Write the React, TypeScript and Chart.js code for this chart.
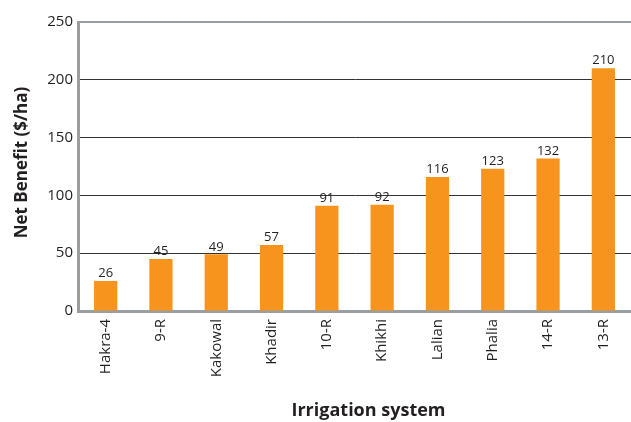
import React, { useEffect, useRef } from "react";
import { Chart, registerables } from "chart.js";

Chart.register(...registerables);

const categories = ["Hakra-4", "9-R", "Kakowal", "Khadir", "10-R", "Khikhi", "Lalian", "Phalia", "14-R", "13-R"];
const netBenefit = [26, 45, 49, 57, 91, 92, 116, 123, 132, 210];
const yTicks = [0, 50, 100, 150, 200, 250];
const xTitle = "Irrigation system";
const yTitle = "Net Benefit ($/ha)";

const FONT = "'Open Sans', 'Noto Sans', sans-serif";
const TEXT = "#231f20";

const valueLabels = {
  id: "valueLabels",
  afterDatasetsDraw(chart: any) {
    const ctx = chart.ctx;
    const meta = chart.getDatasetMeta(0);
    ctx.save();
    ctx.font = `13px ${FONT}`;
    ctx.fillStyle = TEXT;
    ctx.textAlign = "center";
    ctx.textBaseline = "bottom";
    meta.data.forEach((bar: any, i: number) => {
      ctx.fillText(String(netBenefit[i]), bar.x, bar.y - 1);
    });
    ctx.restore();
  },
};

const axisTitles = {
  id: "axisTitles",
  afterDraw(chart: any) {
    const ctx = chart.ctx;
    const area = chart.chartArea;
    ctx.save();
    ctx.fillStyle = TEXT;
    ctx.font = `bold 18px ${FONT}`;
    ctx.textAlign = "center";
    ctx.textBaseline = "alphabetic";
    ctx.fillText(xTitle, area.left + (area.right - area.left) / 2 + 14, 416);
    ctx.translate(27, (area.top + area.bottom) / 2 - 4);
    ctx.rotate(-Math.PI / 2);
    ctx.font = `bold 17px ${FONT}`;
    ctx.fillText(yTitle, 0, 0);
    ctx.restore();
  },
};

export default function App() {
  const ref = useRef<HTMLCanvasElement>(null);
  useEffect(() => {
    document.body.style.margin = "0";
    const chart = new Chart(ref.current!, {
      type: "bar",
      data: {
        labels: categories,
        datasets: [
          {
            data: netBenefit,
            backgroundColor: "#f7941d",
            barPercentage: 0.42,
            categoryPercentage: 1,
          },
        ],
      },
      plugins: [valueLabels, axisTitles],
      options: {
        animation: false,
        responsive: false,
        layout: { padding: { top: 22, right: 0, left: 0, bottom: 0 } },
        plugins: { legend: { display: false }, tooltip: { enabled: false } },
        scales: {
          x: {
            grid: { display: false, drawTicks: false },
            border: { color: "#999ea3", width: 3 },
            ticks: {
              color: TEXT,
              font: { family: FONT, size: 15 },
              maxRotation: 90,
              minRotation: 90,
              padding: 8,
            },
            afterFit(scale: any) {
              scale.height = 111;
            },
          },
          y: {
            min: 0,
            max: 250,
            afterBuildTicks(scale: any) {
              scale.ticks = yTicks.map((v) => ({ value: v }));
            },
            grid: {
              drawTicks: false,
              color: (c: any) => (c.tick && c.tick.value === 250 ? "#999ea3" : "#333333"),
              lineWidth: (c: any) => (c.tick && c.tick.value === 250 ? 2 : 1),
            },
            border: { color: "#999ea3", width: 3 },
            ticks: {
              color: TEXT,
              font: { family: FONT, size: 15 },
              padding: 5,
            },
            afterFit(scale: any) {
              scale.width = 78;
            },
          },
        },
      },
    });
    return () => chart.destroy();
  }, []);
  return (
    <div style={{ width: 631, height: 422 }}>
      <canvas ref={ref} width={631} height={422} />
    </div>
  );
}
